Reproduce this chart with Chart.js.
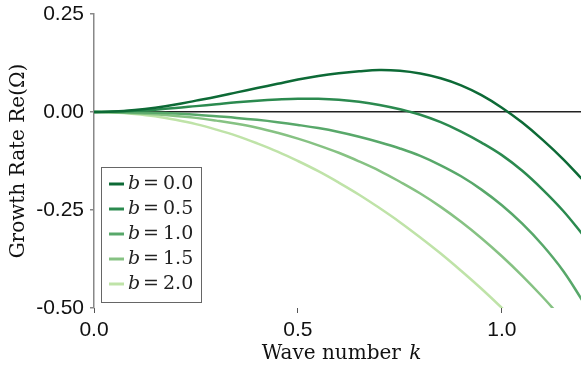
<!DOCTYPE html>
<html>
<head>
<meta charset="utf-8">
<script src="https://cdn.jsdelivr.net/npm/chart.js@4.4.0/dist/chart.umd.min.js"></script>
<style>
  html, body { margin: 0; padding: 0; background: #fff; }
  #wrap { position: relative; width: 581px; height: 373px; }
</style>
</head>
<body>
<div id="wrap"><canvas id="growthChart" width="581" height="373"></canvas></div>
<script>
// wave number k and growth rate Re(Omega)
const waveNumbers = [0, 0.05, 0.1, 0.15, 0.2, 0.25, 0.3, 0.35, 0.4, 0.45, 0.5, 0.55, 0.6,
                     0.65, 0.7, 0.75, 0.8, 0.85, 0.9, 0.95, 1.0, 1.05, 1.1, 1.15, 1.2];
const growthB00 = [0, 0.001, 0.005, 0.011, 0.019, 0.029, 0.039, 0.050, 0.061, 0.072, 0.083, 0.092, 0.099,
                   0.104, 0.107, 0.105, 0.098, 0.086, 0.068, 0.043, 0.011, -0.027, -0.071, -0.120, -0.175];
const growthB05 = [0, 0.001, 0.003, 0.006, 0.010, 0.015, 0.020, 0.025, 0.029, 0.032, 0.034, 0.0335, 0.031,
                   0.026, 0.018, 0.007, -0.007, -0.026, -0.050, -0.078, -0.110, -0.150, -0.198, -0.252, -0.315];
const growthB10 = [0, 0, -0.001, -0.002, -0.004, -0.007, -0.011, -0.015, -0.020, -0.026, -0.033, -0.041, -0.051,
                   -0.063, -0.077, -0.093, -0.112, -0.136, -0.164, -0.198, -0.238, -0.285, -0.340, -0.405, -0.485];
const growthB15 = [0, -0.001, -0.003, -0.006, -0.010, -0.015, -0.022, -0.030, -0.040, -0.053, -0.068, -0.085, -0.104,
                   -0.126, -0.150, -0.178, -0.208, -0.242, -0.280, -0.322, -0.368, -0.418, -0.472, -0.530, -0.590];
const growthB20 = [0, -0.001, -0.005, -0.011, -0.020, -0.031, -0.045, -0.061, -0.080, -0.101, -0.125, -0.151, -0.180,
                   -0.211, -0.245, -0.281, -0.320, -0.361, -0.405, -0.451, -0.500, -0.552, -0.606, -0.662, -0.720];

const bValues = ['0.0', '0.5', '1.0', '1.5', '2.0'];
const lineColors = ['#0d6a36', '#2b8a4f', '#58a86a', '#86c283', '#bfe3a8'];
const yTickValues = [-0.5, -0.25, 0, 0.25];
const xTickValues = [0, 0.5, 1.0];

const allSeries = [growthB00, growthB05, growthB10, growthB15, growthB20];

const datasets = allSeries.map((series, i) => ({
    label: 'b = ' + bValues[i],
    data: series.map((v, j) => ({ x: waveNumbers[j], y: v })),
    borderColor: lineColors[i],
    borderWidth: 2.5,
    pointRadius: 0,
    fill: false,
    tension: 0.4
}));

// axis titles and boxed legend (mixed italic / upright text)
const extrasPlugin = {
    id: 'extras',
    afterDraw(chart) {
        const ctx = chart.ctx;
        const area = chart.chartArea;
        ctx.save();
        ctx.fillStyle = '#111';
        ctx.textBaseline = 'middle';

        // x title
        const regular = '20px "DejaVu Serif"';
        const italic = 'italic 20px "DejaVu Serif"';
        ctx.font = regular;
        const w1 = ctx.measureText('Wave number ').width;
        ctx.font = italic;
        const w2 = ctx.measureText('k').width;
        let x0 = (area.left + area.right) / 2 - (w1 + w2) / 2 + 3;
        const yT = 354;
        ctx.font = regular;
        ctx.textAlign = 'left';
        ctx.fillText('Wave number ', x0, yT);
        ctx.font = italic;
        ctx.fillText('k', x0 + w1 + 2, yT);

        // y title
        ctx.save();
        ctx.translate(19, (area.top + area.bottom) / 2);
        ctx.rotate(-Math.PI / 2);
        ctx.font = regular;
        ctx.textAlign = 'center';
        ctx.fillText('Growth Rate Re(\u03A9)', 0, 0);
        ctx.restore();

        // legend box
        const bx = area.left + 7, by = area.bottom - 141;
        ctx.fillStyle = '#fff';
        ctx.fillRect(bx, by, 100, 135);
        ctx.strokeStyle = '#666';
        ctx.lineWidth = 1;
        ctx.strokeRect(bx + 0.5, by + 0.5, 100, 135);
        chart.data.datasets.forEach((ds, i) => {
            const ry = by + 17 + i * 25;
            ctx.strokeStyle = ds.borderColor;
            ctx.lineWidth = 3;
            ctx.beginPath();
            ctx.moveTo(bx + 8, ry);
            ctx.lineTo(bx + 23, ry);
            ctx.stroke();
            ctx.fillStyle = '#222';
            ctx.textAlign = 'left';
            ctx.font = 'italic 19px "DejaVu Serif"';
            ctx.fillText('b', bx + 27, ry);
            ctx.font = '19px "DejaVu Serif"';
            ctx.fillText('=', bx + 42, ry);
            ctx.fillText(bValues[i], bx + 62, ry);
        });
        ctx.restore();
    }
};

new Chart(document.getElementById('growthChart'), {
    type: 'line',
    data: { datasets: datasets },
    options: {
        responsive: false,
        animation: false,
        devicePixelRatio: 1,
        layout: { padding: { top: 14, right: 0, bottom: 0, left: 0 } },
        plugins: {
            legend: { display: false },
            tooltip: { enabled: false }
        },
        scales: {
            x: {
                type: 'linear',
                min: 0,
                max: 1.194,
                afterBuildTicks: s => { s.ticks = xTickValues.map(v => ({ value: v })); },
                afterFit: s => { s.height = 65; s.paddingLeft = 0; s.paddingRight = 0; },
                ticks: {
                    color: '#111',
                    font: { family: '"Liberation Sans", Arial', size: 21 },
                    padding: 5,
                    maxRotation: 0,
                    callback: v => v.toFixed(1)
                },
                grid: { color: 'transparent', drawOnChartArea: false, tickColor: '#555', tickLength: 5, tickWidth: 1 },
                border: { display: false }
            },
            y: {
                min: -0.5,
                max: 0.25,
                afterBuildTicks: s => { s.ticks = yTickValues.map(v => ({ value: v })); },
                afterFit: s => { s.width = 94; s.paddingTop = 0; s.paddingBottom = 0; },
                ticks: {
                    color: '#111',
                    font: { family: '"Liberation Sans", Arial', size: 21 },
                    padding: 6,
                    callback: v => v.toFixed(2)
                },
                grid: {
                    color: c => (c.tick && c.tick.value === 0) ? '#222' : 'transparent',
                    lineWidth: 1.5,
                    tickColor: '#888',
                    tickLength: 4,
                    tickWidth: 1.5
                },
                border: { color: '#888', width: 1.5 }
            }
        }
    },
    plugins: [extrasPlugin]
});
</script>
</body>
</html>
